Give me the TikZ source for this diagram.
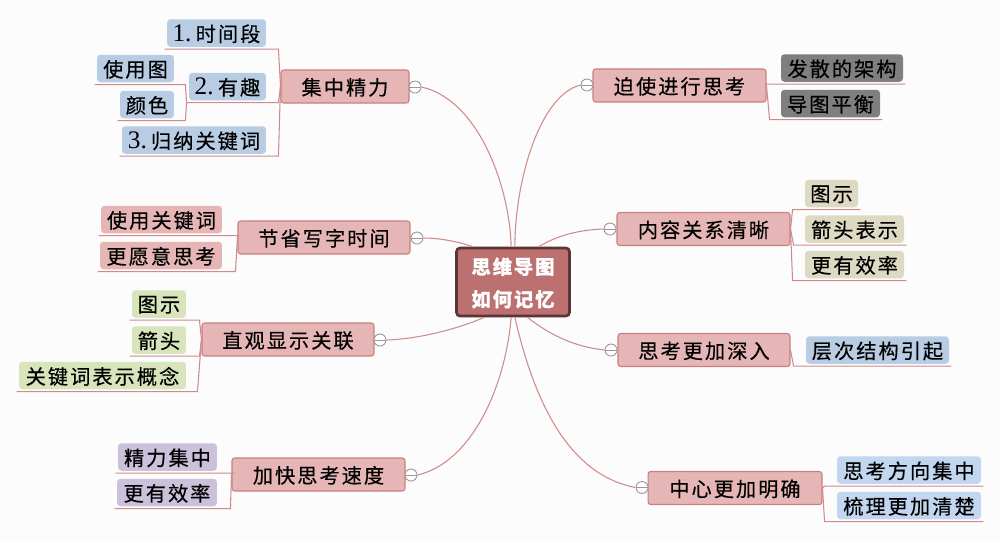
\documentclass[tikz,border=0pt]{standalone}
\usepackage{fontspec}
\setmainfont[LetterSpace=10,FakeBold=0.35]{Noto Sans CJK SC}
\newfontfamily\numfont{Liberation Serif}
\definecolor{mainfill}{HTML}{E6B5B5}
\definecolor{mainline}{HTML}{C97F7F}
\definecolor{rootfill}{HTML}{BC7070}
\definecolor{rootline}{HTML}{5A3535}
\definecolor{twigline}{HTML}{D08A8A}
\definecolor{bluebox}{HTML}{B8CCE4}
\definecolor{lightblue}{HTML}{C2D6F0}
\definecolor{greenbox}{HTML}{D7E4BC}
\definecolor{purplebox}{HTML}{CCC1DA}
\definecolor{graybox}{HTML}{7F7F7F}
\definecolor{tanbox}{HTML}{DDD9C3}
\definecolor{pagefill}{HTML}{FCFCFD}
\tikzset{
  rootbox/.style={draw=rootline, line width=1.5pt, fill=rootfill, rounded corners=2pt, minimum width=2.26cm, minimum height=1.36cm, inner sep=0pt, align=center, text=white, text depth=0pt, font=\bfseries\fontsize{11}{18.5}\selectfont},
  mainbox/.style={draw=mainline, line width=0.6pt, fill=mainfill, rounded corners=1.5pt, minimum height=0.66cm, inner sep=0pt, text depth=0pt, font=\fontsize{11.5}{12}\selectfont},
  leafbox/.style={rounded corners=2pt, minimum height=0.55cm, inner sep=0pt, outer sep=1.4pt, text depth=0pt, font=\fontsize{11.5}{12}\selectfont},
  foldmark/.style={circle, draw=gray!80, line width=0.5pt, fill=white, minimum size=0.24cm, inner sep=0pt, path picture={\draw[gray!80, line width=0.5pt] (path picture bounding box.west) -- (path picture bounding box.east);}},
  twig/.style={draw=twigline, line width=0.6pt},
  branch/.style={draw=twigline, line width=0.6pt}
}
\begin{document}
\begin{tikzpicture}[x=0.02cm, y=-0.02cm]
\useasboundingbox[fill=pagefill] (0,0) rectangle (1000,542);

\node[rootbox] (root) at (513,282) {思维导图\\如何记忆};

\node[mainbox, minimum width=2.56cm] (jizhong) at (345,86.5) {集中精力};
\node[mainbox, minimum width=3.44cm] (jiesheng) at (324,237.5) {节省写字时间};
\node[mainbox, minimum width=3.44cm] (zhiguan) at (288,339.5) {直观显示关联};
\node[mainbox, minimum width=3.46cm] (jiakuai) at (318.5,474.5) {加快思考速度};
\node[mainbox, minimum width=3.46cm] (poshi) at (679.5,85.5) {迫使进行思考};
\node[mainbox, minimum width=3.46cm] (neirong) at (703.5,229) {内容关系清晰};
\node[mainbox, minimum width=3.44cm] (sikao) at (704,350) {思考更加深入};
\node[mainbox, minimum width=3.48cm] (zhongxin) at (735,488) {中心更加明确};

\node[foldmark] (foldjizhong) at (415,87) {};
\node[foldmark] (foldjiesheng) at (417,238) {};
\node[foldmark] (foldzhiguan) at (380,340) {};
\node[foldmark] (foldjiakuai) at (411,475) {};
\node[foldmark] (foldposhi) at (587,85) {};
\node[foldmark] (foldneirong) at (610,229) {};
\node[foldmark] (foldsikao) at (611,350) {};
\node[foldmark] (foldzhongxin) at (642,487.5) {};

\draw[branch] (root.93) .. controls (510,190) and (480,100) .. (foldjizhong.east);
\draw[branch] (root.87) .. controls (515,180) and (540,95) .. (foldposhi.west);
\draw[branch] (root.139) .. controls (460,242) and (440,238) .. (foldjiesheng.east);
\draw[branch] (root.54) .. controls (555,237) and (575,230) .. (foldneirong.west);
\draw[branch] (root.231) .. controls (460,328) and (420,339) .. (foldzhiguan.east);
\draw[branch] (root.292) .. controls (550,335) and (575,347) .. (foldsikao.west);
\draw[branch] (root.267) .. controls (505,390) and (470,463) .. (foldjiakuai.east);
\draw[branch] (root.273) .. controls (535,405) and (570,475) .. (foldzhongxin.west);

\node[leafbox, fill=bluebox, minimum width=1.98cm] (shijian) at (216.5,33) {{\numfont\Large 1.\,}时间段};
\node[leafbox, fill=bluebox, minimum width=1.54cm] (youqu) at (227.5,86.5) {{\numfont\Large 2.\,}有趣};
\node[leafbox, fill=bluebox, minimum width=2.88cm] (guina) at (194,140) {{\numfont\Large 3.\,}归纳关键词};
\node[leafbox, fill=bluebox, minimum width=1.54cm] (shiyong) at (135.5,68.5) {使用图};
\node[leafbox, fill=bluebox, minimum width=1.08cm] (yanse) at (147,104.5) {颜色};
\node[leafbox, fill=mainfill, minimum width=2.42cm] (guanjian) at (161.5,219.5) {使用关键词};
\node[leafbox, fill=mainfill, minimum width=2.44cm] (yuanyi) at (161,255.5) {更愿意思考};
\node[leafbox, fill=greenbox, minimum width=1.08cm] (tushi) at (159,304) {图示};
\node[leafbox, fill=greenbox, minimum width=1.08cm] (jiantou) at (159,340) {箭头};
\node[leafbox, fill=greenbox, minimum width=3.34cm] (gainian) at (102.5,375.5) {关键词表示概念};
\node[leafbox, fill=purplebox, minimum width=1.98cm] (jingli) at (167.5,457) {精力集中};
\node[leafbox, fill=purplebox, minimum width=2cm] (xiaolv) at (167,492.5) {更有效率};

\node[leafbox, fill=graybox, minimum width=2.44cm] (fasan) at (842,68) {发散的架构};
\node[leafbox, fill=graybox, minimum width=1.98cm] (pingheng) at (830.5,103.5) {导图平衡};
\node[leafbox, fill=tanbox, minimum width=1.06cm] (tushir) at (831.5,193.5) {图示};
\node[leafbox, fill=tanbox, minimum width=1.98cm] (jiantour) at (854.5,229) {箭头表示};
\node[leafbox, fill=tanbox, minimum width=1.98cm] (xiaolvr) at (854.5,264.5) {更有效率};
\node[leafbox, fill=bluebox, minimum width=2.86cm] (cengci) at (877.5,350) {层次结构引起};
\node[leafbox, fill=lightblue, minimum width=2.88cm] (fangxiang) at (909,470) {思考方向集中};
\node[leafbox, fill=lightblue, minimum width=2.88cm] (shuli) at (909,505.5) {梳理更加清楚};

\draw[twig] (shijian.south west) -- (shijian.south east) -- ++(10,0) -- (jizhong.west);
\draw[twig] (youqu.south west) -- (youqu.south east) -- ++(10,0) -- (jizhong.west);
\draw[twig] (guina.south west) -- (guina.south east) -- ++(10,0) -- (jizhong.west);
\draw[twig] (shiyong.south west) -- (shiyong.south east) -- ++(9,0) -- (youqu.south west);
\draw[twig] (yanse.south west) -- (yanse.south east) -- ++(9,0) -- (youqu.south west);
\draw[twig] (guanjian.south west) -- (guanjian.south east) -- ++(14,0) -- (jiesheng.west);
\draw[twig] (yuanyi.south west) -- (yuanyi.south east) -- ++(11,0) -- (jiesheng.west);
\draw[twig] (tushi.south west) -- (tushi.south east) -- ++(11,0) -- (zhiguan.west);
\draw[twig] (jiantou.south west) -- (jiantou.south east) -- ++(11,0) -- (zhiguan.west);
\draw[twig] (gainian.south west) -- (gainian.south east) -- ++(9,0) -- (zhiguan.west);
\draw[twig] (jingli.south west) -- (jingli.south east) -- ++(14,0) -- (jiakuai.west);
\draw[twig] (xiaolv.south west) -- (xiaolv.south east) -- ++(11,0) -- (jiakuai.west);

\draw[twig] (fasan.south east) -- (fasan.south west) -- ++(-13,0) -- (poshi.east);
\draw[twig] (pingheng.south east) -- (pingheng.south west) -- ++(-9,0) -- (poshi.east);
\draw[twig] (tushir.south east) -- (tushir.south west) -- ++(-10,0) -- (neirong.east);
\draw[twig] (jiantour.south east) -- (jiantour.south west) -- ++(-9,0) -- (neirong.east);
\draw[twig] (xiaolvr.south east) -- (xiaolvr.south west) -- ++(-10,0) -- (neirong.east);
\draw[twig] (cengci.south east) -- (cengci.south west) -- ++(-10,0) -- (sikao.east);
\draw[twig] (fangxiang.south east) -- (fangxiang.south west) -- ++(-10,0) -- (zhongxin.east);
\draw[twig] (shuli.south east) -- (shuli.south west) -- ++(-10,0) -- (zhongxin.east);
\end{tikzpicture}
\end{document}
